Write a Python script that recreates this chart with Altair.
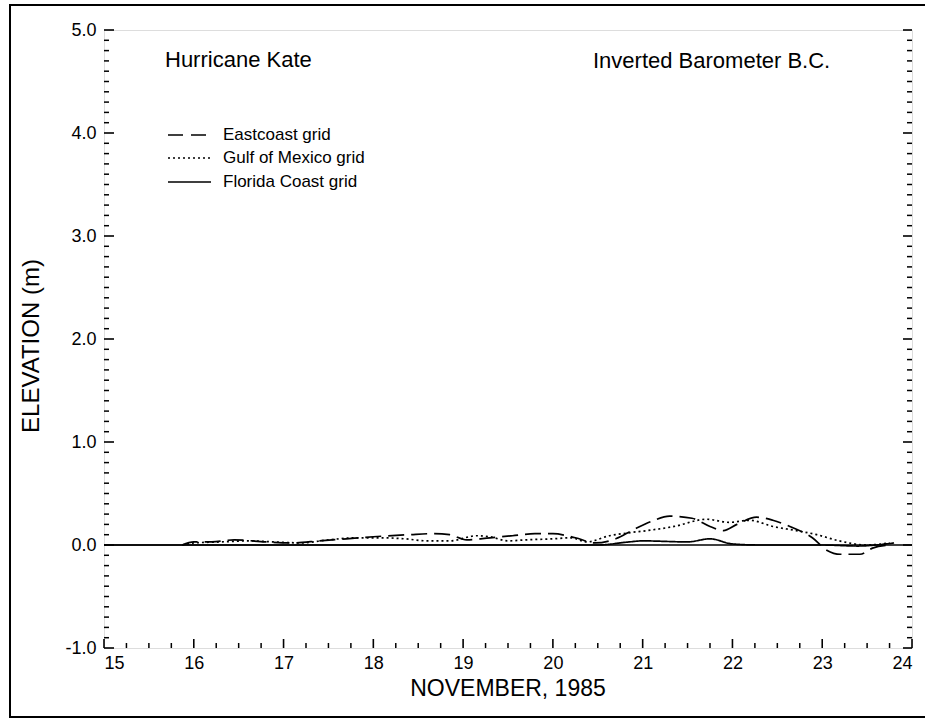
import altair as alt
import pandas as pd
import numpy as np

# ---- data ----
east_day = [15.87, 16.0, 16.2, 16.45, 16.8, 17.1, 17.4, 17.7, 18.0, 18.4, 18.65, 18.85, 19.04, 19.3,
            19.55, 19.8, 20.0, 20.25, 20.47, 20.7, 20.9, 21.1, 21.3, 21.55, 21.75, 21.9, 22.05, 22.27,
            22.45, 22.64, 22.89, 23.05, 23.2, 23.42, 23.56, 23.75]
east_val = [0.0, 0.03, 0.03, 0.05, 0.03, 0.02, 0.04, 0.06, 0.08, 0.10, 0.11, 0.10, 0.05, 0.07,
            0.09, 0.11, 0.11, 0.07, 0.02, 0.06, 0.15, 0.23, 0.28, 0.26, 0.18, 0.14, 0.20, 0.27,
            0.24, 0.18, 0.07, -0.05, -0.09, -0.09, -0.03, 0.0]

gulf_day = [15.87, 16.0, 16.3, 16.6, 16.9, 17.2, 17.5, 17.8, 18.1, 18.35, 18.6, 18.85, 19.15, 19.3,
            19.5, 19.7, 20.0, 20.2, 20.38, 20.63, 20.86, 21.05, 21.35, 21.71, 21.97, 22.19, 22.45,
            22.71, 22.94, 23.19, 23.49, 23.75]
gulf_val = [0.0, 0.02, 0.03, 0.04, 0.03, 0.02, 0.05, 0.07, 0.07, 0.06, 0.04, 0.04, 0.09, 0.08,
            0.04, 0.05, 0.06, 0.07, 0.03, 0.09, 0.12, 0.14, 0.18, 0.25, 0.22, 0.24, 0.18,
            0.14, 0.10, 0.04, 0.0, 0.02]

flor_day = [15.0, 16.0, 17.0, 18.0, 19.0, 20.0, 20.5, 20.85, 21.0, 21.5, 21.75, 22.0, 22.3, 23.0,
            23.4, 23.6, 23.8]
flor_val = [0.0, 0.0, 0.0, 0.0, 0.0, 0.0, 0.0, 0.03, 0.04, 0.03, 0.06, 0.01, 0.0, 0.0,
            -0.01, 0.0, 0.02]

series_names = ["Eastcoast grid", "Gulf of Mexico grid", "Florida Coast grid"]
x_major = list(range(15, 25))
y_major = [-1.0, 0.0, 1.0, 2.0, 3.0, 4.0, 5.0]

# ---- build tables ----
rows = []
for name, d, v in zip(series_names, [east_day, gulf_day, flor_day], [east_val, gulf_val, flor_val]):
    for a, b in zip(d, v):
        rows.append({"series": name, "day": a, "elev": b})
df = pd.DataFrame(rows)

x_minor = [v for v in np.arange(15, 24.001, 0.25) if abs(v - round(v)) > 1e-6]
y_minor = [round(v, 2) for v in np.arange(-1, 5.001, 0.1) if abs(v - round(v)) > 1e-6]

W, H = 808, 618
FONT = "Liberation Sans"

xs = alt.Scale(domain=[15, 24], nice=False, zero=False)
ys = alt.Scale(domain=[-1, 5], nice=False, zero=False)

xaxis = alt.Axis(values=x_major, format="d", labelFontSize=18, labelFont=FONT, labelColor="black",
                 ticks=False, domain=False, grid=False, labelPadding=6, title=None)
yaxis = alt.Axis(values=y_major, labelFontSize=18, labelFont=FONT, labelColor="black",
                 labelExpr="datum.value < 0 ? '-' + format(-datum.value, '.1f') : format(datum.value, '.1f')",
                 ticks=False, domain=False, grid=False, labelPadding=8, title=None)

# outer frame
frame = alt.Chart(pd.DataFrame({"a": [0]})).mark_rect(
    fill=None, stroke="black", strokeWidth=2
).encode(x=alt.value(-94), x2=alt.value(835), y=alt.value(-25), y2=alt.value(687))

dash_map = alt.Scale(domain=series_names, range=[[16, 7], [2, 3], [1, 0]])

lines = alt.Chart(df).mark_line(color="black", strokeWidth=1.7, interpolate="monotone").encode(
    x=alt.X("day:Q", scale=xs, axis=xaxis),
    y=alt.Y("elev:Q", scale=ys, axis=yaxis),
    strokeDash=alt.StrokeDash("series:N", scale=dash_map, legend=None),
    detail="series:N",
)

zero = alt.Chart(pd.DataFrame({"elev": [0.0]})).mark_rule(color="black", strokeWidth=1.5).encode(
    y=alt.Y("elev:Q", scale=ys), x=alt.value(0), x2=alt.value(W)
)

# inward ticks
xmaj = alt.Chart(pd.DataFrame({"day": x_major})).mark_rule(color="black", strokeWidth=1.6).encode(
    x=alt.X("day:Q", scale=xs), y=alt.value(H), y2=alt.value(H - 9))
xmin = alt.Chart(pd.DataFrame({"day": x_minor})).mark_rule(color="black", strokeWidth=1.5).encode(
    x=alt.X("day:Q", scale=xs), y=alt.value(H), y2=alt.value(H - 5))
ylmaj = alt.Chart(pd.DataFrame({"elev": y_major})).mark_rule(color="black", strokeWidth=1.6).encode(
    y=alt.Y("elev:Q", scale=ys), x=alt.value(0), x2=alt.value(10))
ylmin = alt.Chart(pd.DataFrame({"elev": y_minor})).mark_rule(color="black", strokeWidth=1.5).encode(
    y=alt.Y("elev:Q", scale=ys), x=alt.value(0), x2=alt.value(5))
yrmaj = alt.Chart(pd.DataFrame({"elev": y_major})).mark_rule(color="black", strokeWidth=1.6).encode(
    y=alt.Y("elev:Q", scale=ys), x=alt.value(W), x2=alt.value(W - 9))
yrmin = alt.Chart(pd.DataFrame({"elev": y_minor})).mark_rule(color="black", strokeWidth=1.5).encode(
    y=alt.Y("elev:Q", scale=ys), x=alt.value(W), x2=alt.value(W - 5))

# texts
def label(text, x, y, size, align="left", angle=0, baseline="alphabetic"):
    kw = dict(text=text, align=align, baseline=baseline, fontSize=size, font=FONT, color="black")
    if angle:
        kw["angle"] = angle
    return alt.Chart(pd.DataFrame({"a": [0]})).mark_text(**kw).encode(x=alt.value(x), y=alt.value(y))

t1 = label("Hurricane Kate", 61, 37, 22)
t2 = label("Inverted Barometer B.C.", 489, 38, 22)
xt = label("NOVEMBER, 1985", W / 2, 666, 23, align="center")
yt = label("ELEVATION (m)", -72, 316, 24, align="center", angle=270, baseline="middle")

# legend
leg_y = [105, 128, 152]
leg_dash = [[15, 8], [2, 3], [1, 0]]
legend_layers = []
for name, yy, dsh in zip(series_names, leg_y, leg_dash):
    legend_layers.append(
        alt.Chart(pd.DataFrame({"a": [0]})).mark_rule(color="black", strokeWidth=1.7, strokeDash=dsh)
        .encode(x=alt.value(64), x2=alt.value(107), y=alt.value(yy))
    )
    legend_layers.append(label(name, 119, yy, 17, baseline="middle"))

chart = alt.layer(
    frame, zero, lines, xmaj, xmin, ylmaj, ylmin, yrmaj, yrmin, t1, t2, xt, yt, *legend_layers
).properties(
    width=W, height=H,
    padding={"left": 104, "top": 30, "right": 13, "bottom": 73},
    autosize=alt.AutoSizeParams(type="none"),
).configure_view(stroke="black", strokeWidth=1.8).configure(background="white")

chart.save("out.html", embed_options={"renderer": "svg", "actions": False})
